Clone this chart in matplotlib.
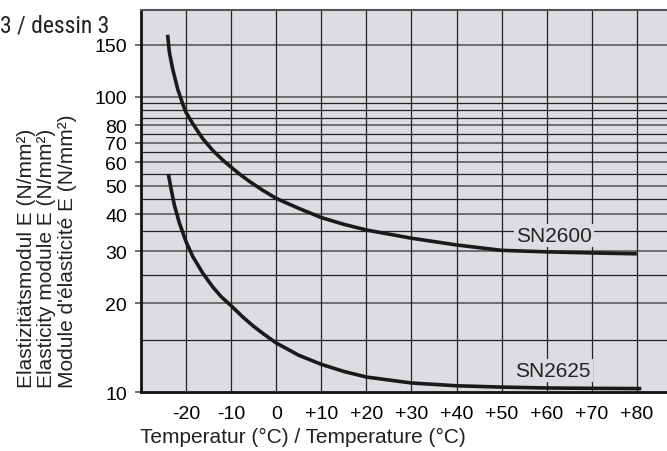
import matplotlib
matplotlib.use("Agg")
import matplotlib.pyplot as plt
from matplotlib.ticker import FixedLocator, NullFormatter, FixedFormatter

plt.rcParams['font.family'] = ['Liberation Sans', 'DejaVu Sans']

# data (temperature in °C, E in N/mm²)
sn2600_temp = [-24.09, -23.71, -22.98, -21.87, -20.76, -20, -18.53, -16.31, -14.09, -11.87, -10,
               -8.16, -5.93, -3.04, 0, 5, 10, 15, 20, 30, 40, 50, 60, 70, 80]
sn2600_e = [162.3, 141.8, 124.4, 106.4, 94.8, 88.5, 81.2, 72.2, 65.9, 61.1, 57.8,
            54.8, 51.7, 48.3, 45.3, 41.9, 39.0, 37.0, 35.4, 33.2, 31.5, 30.2, 29.85, 29.6, 29.4]

sn2625_temp = [-23.93, -23.33, -22.6, -21.49, -20, -18.53, -16.31, -14.09, -12.16, -10,
               -7.42, -5.04, -2.6, 0, 5, 10, 15, 20, 30, 40, 50, 60, 70, 81]
sn2625_e = [54.8, 48.8, 43.0, 37.4, 32.3, 28.8, 25.3, 22.7, 21.0, 19.6,
            17.96, 16.7, 15.65, 14.66, 13.32, 12.41, 11.74, 11.24, 10.73, 10.50, 10.39, 10.32, 10.29, 10.27]

x_ticks = [-20, -10, 0, 10, 20, 30, 40, 50, 60, 70, 80]
x_labels = ['-20', '-10', '0', '+10', '+20', '+30', '+40', '+50', '+60', '+70', '+80']
y_major = [10, 20, 30, 40, 50, 60, 70, 80, 100, 150]
y_grid = [15, 20, 25, 30, 35, 40, 45, 50, 55, 60, 65, 70, 75, 80, 85, 90, 95, 100, 150]

bg = '#dcdde0'

fig = plt.figure(figsize=(6.67, 4.52), dpi=100)
ax = fig.add_axes([0.2114, 0.1305, 0.7886, 0.8452])
ax.set_facecolor(bg)
ax.set_yscale('log')
ax.set_xlim(-30, 86.7)
ax.set_ylim(10, 197)

# grid
for v in y_grid:
    if v in y_major:
        ax.axhline(v, color='#6e6e6e', lw=1.4, zorder=1)
    else:
        ax.axhline(v, color='#222222', lw=0.9, zorder=1)
for t in x_ticks:
    ax.axvline(t, color='#222222', lw=0.9, zorder=1)

ax.plot(sn2600_temp, sn2600_e, color='#1a1a1a', lw=2.6, zorder=3, solid_capstyle='butt')
ax.plot(sn2625_temp, sn2625_e, color='#1a1a1a', lw=2.6, zorder=3, solid_capstyle='butt')

ax.text(61.6, 34.0, 'SN2600', fontsize=15, color='#222222', ha='center', va='center', zorder=4,
        bbox=dict(facecolor=bg, edgecolor='none', pad=1.5))
ax.text(61.4, 11.8, 'SN2625', fontsize=15, color='#222222', ha='center', va='center', zorder=4,
        bbox=dict(facecolor=bg, edgecolor='none', pad=1.5))

ax.yaxis.set_major_locator(FixedLocator(y_major))
ax.yaxis.set_major_formatter(FixedFormatter([str(v) for v in y_major]))
ax.yaxis.set_minor_locator(FixedLocator([]))
ax.yaxis.set_minor_formatter(NullFormatter())
ax.set_xticks(x_ticks)
ax.set_xticklabels(x_labels)
ax.tick_params(axis='y', length=4, width=1.2, color='#555555', labelsize=14, pad=6)
ax.tick_params(axis='x', length=0, labelsize=14, pad=9)

for s in ['left', 'bottom']:
    ax.spines[s].set_linewidth(2)
    ax.spines[s].set_color('#111111')
ax.spines['top'].set_color('#555555')
ax.spines['top'].set_linewidth(1.5)
ax.spines['right'].set_visible(False)

fig.text(140 / 667, 1 - 437 / 452, 'Temperatur (°C) / Temperature (°C)', fontsize=15,
         ha='left', va='center', color='#222222')
ylabel = 'Elastizitätsmodul E (N/mm²)\nElasticity module E (N/mm²)\nModule d\'élasticité E (N/mm²)'
fig.text(47 / 667, 1 - 388 / 452, ylabel, fontsize=15, rotation=90, linespacing=1.12,
         ha='center', va='bottom', multialignment='left', color='#222222')

fig.text(0.0, 1 - 33 / 452, '3 / dessin 3', fontsize=17, ha='left', va='baseline',
         family=['Liberation Sans Narrow', 'Roboto Condensed', 'DejaVu Sans'],
         fontstretch='condensed', color='#222222')

fig.savefig('out.png', dpi=100)
